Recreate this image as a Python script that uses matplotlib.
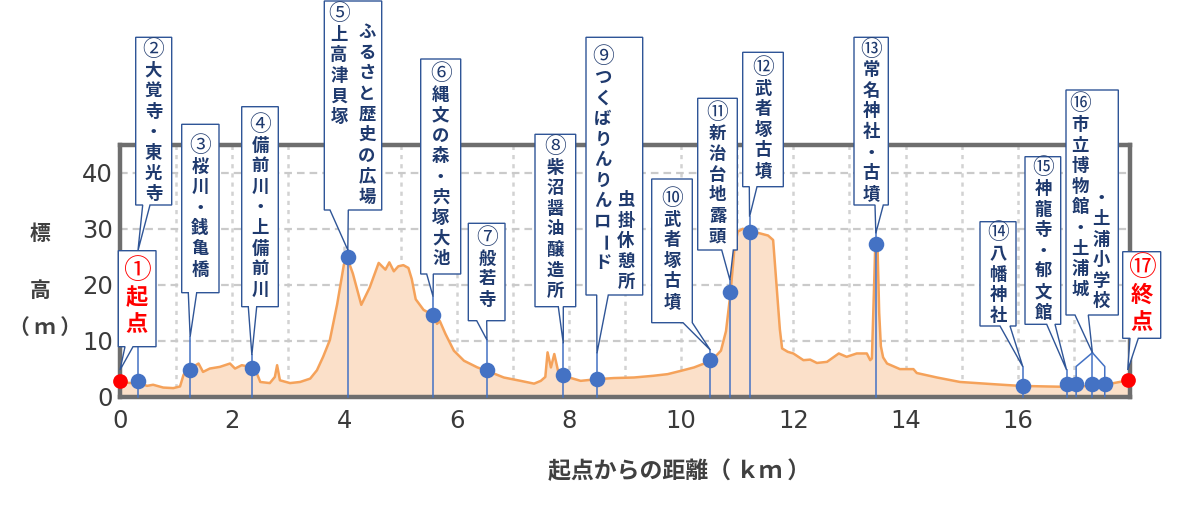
import numpy as np
import matplotlib.pyplot as plt
from matplotlib.patches import Polygon

plt.rcParams["font.family"] = ["Noto Sans CJK JP", "DejaVu Sans"]
plt.rcParams["lines.scale_dashes"] = False

# elevation profile along the route (km, m)
dist_km = [0.00, 0.10, 0.20, 0.36, 0.48, 0.59, 0.77, 0.95, 1.07, 1.13, 1.19, 1.30,
           1.40, 1.48, 1.60, 1.78, 1.96, 2.05, 2.17, 2.32, 2.44, 2.50, 2.67, 2.76,
           2.80, 2.85, 3.03, 3.21, 3.39, 3.51, 3.62, 3.74, 3.87, 3.99, 4.05, 4.15,
           4.30, 4.45, 4.61, 4.73, 4.80, 4.88, 4.96, 5.05, 5.14, 5.20, 5.27, 5.41,
           5.59, 5.65, 5.70, 5.80, 5.95, 6.13, 6.37, 6.54, 6.84, 7.14, 7.38, 7.50,
           7.58, 7.62, 7.68, 7.74, 7.82, 7.90, 8.21, 8.50, 8.80, 9.16, 9.50, 9.76,
           10.00, 10.23, 10.54, 10.71, 10.80, 10.88, 10.95, 11.01, 11.10, 11.22,
           11.40, 11.55, 11.64, 11.70, 11.76, 11.80, 11.90, 12.00, 12.18, 12.30,
           12.42, 12.60, 12.81, 12.95, 13.13, 13.31, 13.37, 13.40, 13.44, 13.46,
           13.50, 13.53, 13.56, 13.60, 13.67, 13.90, 14.14, 14.20, 14.56, 14.97,
           15.57, 16.04, 16.50, 16.76, 17.00, 17.35, 17.55, 17.71, 17.97]
elev_m = [2.7, 2.5, 2.4, 2.4, 1.9, 2.1, 1.6, 1.5, 1.8, 3.8, 4.9, 5.3,
          5.9, 4.4, 5.0, 5.3, 5.9, 5.0, 5.6, 5.3, 4.1, 2.6, 2.4, 3.5,
          5.6, 2.9, 2.4, 2.6, 3.2, 4.7, 7.1, 10.1, 16.5, 23.6, 24.8, 22.0,
          16.4, 19.5, 23.9, 22.7, 24.0, 22.4, 23.3, 23.5, 23.0, 21.0, 17.4, 15.5,
          14.5, 13.0, 13.5, 11.2, 8.2, 6.4, 5.2, 4.6, 3.4, 2.8, 2.3, 2.8,
          3.5, 7.9, 5.2, 7.6, 4.0, 3.7, 2.8, 3.1, 3.3, 3.4, 3.7, 4.0,
          4.6, 5.2, 6.4, 8.2, 11.7, 18.5, 26.5, 29.5, 30.0, 29.5,
          29.2, 28.8, 28.0, 20.0, 12.0, 8.6, 8.0, 7.7, 6.5, 6.6,
          6.0, 6.2, 7.7, 7.1, 7.7, 7.7, 6.5, 6.8, 20.0, 27.0,
          27.0, 15.0, 9.0, 7.0, 5.9, 4.9, 4.9, 4.2, 3.4, 2.6,
          2.2, 1.9, 1.8, 1.75, 1.8, 1.9, 2.0, 2.4, 2.9]

# stops (circled number + name, columns in reading order)
stop_text = [
    ["①起点"],
    ["②大覚寺・東光寺"],
    ["③桜川・銭亀橋"],
    ["④備前川・上備前川"],
    ["⑤上高津貝塚", "ふるさと歴史の広場"],
    ["⑥縄文の森・宍塚大池"],
    ["⑦般若寺"],
    ["⑧柴沼醤油醸造所"],
    ["⑨つくばりんりんロード", "虫掛休憩所"],
    ["⑩武者塚古墳"],
    ["⑪新治台地露頭"],
    ["⑫武者塚古墳"],
    ["⑬常名神社・古墳"],
    ["⑭八幡神社"],
    ["⑮神龍寺・郁文館"],
    ["⑯市立博物館・土浦城", "・土浦小学校"],
    ["⑰終点"],
]
stop_km = [[0.0], [0.32], [1.25], [2.35], [4.06], [5.58], [6.54], [7.90], [8.50],
           [10.52], [10.87], [11.22], [13.47], [16.09], [16.87],
           [17.04, 17.33, 17.55], [17.96]]
stop_m = [[2.8], [2.8], [4.7], [5.1], [24.9], [14.6], [4.7], [3.8], [3.2],
          [6.5], [18.7], [29.5], [27.3], [1.9], [2.2],
          [2.2, 2.2, 2.2], [3.0]]

# callout layout in reference pixels (left, right, top, bottom)
box_px = [(118.3, 156.0, 250.7, 346.7), (135.7, 171.7, 37.3, 205.0),
          (181.7, 219.0, 124.3, 292.7), (241.7, 278.3, 106.7, 306.7),
          (324.3, 381.7, 1.0, 210.0), (420.7, 460.7, 59.0, 274.0),
          (468.3, 505.0, 223.3, 320.7), (535.0, 575.7, 134.3, 306.7),
          (586.0, 642.7, 37.3, 295.0), (651.7, 692.3, 179.0, 322.7),
          (697.7, 737.3, 98.3, 250.0), (742.7, 783.3, 52.3, 186.7),
          (854.0, 888.3, 37.3, 205.0), (980.0, 1016.0, 221.7, 326.0),
          (1025.0, 1060.7, 156.7, 324.3), (1066.0, 1118.3, 90.0, 315.0),
          (1122.7, 1160.7, 251.7, 338.3)]
base_px = [(125, 133), (142.7, 150), (188.3, 196.7), (248.3, 256.7), (330, 348.3),
           (426.7, 433.3), (476.7, 486.7), (558.3, 563.3), (596.7, 608.3),
           (683, 692.3), (721.7, 733.3), (749.3, 757), (875, 883.3), (1000, 1010),
           (1046.7, 1055), (1075, 1088.3), (1130, 1138.3)]
tip_py = [370, 250.7, 336.7, 355, 250, 296.7, 340, 343.3, 353.3, 350, 280,
          216.7, 233.3, 366.7, 370, 352.7, 370]
col_px = [[(137, 271)], [(153.5, 50)], [(200, 146)], [(260, 125)],
          [(339, 14), (367, 32)], [(440.7, 74)], [(487, 238)], [(555.3, 147)],
          [(603, 57), (626, 200)], [(672, 199)], [(717.5, 113)], [(763, 68)],
          [(871, 49.5)], [(998, 233.3)], [(1043, 168.3)],
          [(1080, 104.3), (1101, 198.3)], [(1141.7, 268.3)]]
BRANCH_PY = 366.5

W, H = 1200, 509
AX_L, AX_R, AX_T, AX_B = 120, 1130, 145, 396.5
XMAX, YMAX = 18, 45


def px_x(px):
    return (px - AX_L) / (AX_R - AX_L) * XMAX


def px_y(py):
    return (AX_B - py) / (AX_B - AX_T) * YMAX


BLUE = "#4472c4"
EDGE = "#2f5597"
NAVY = "#1f3a6e"
RED = "#ff0000"

fig = plt.figure(figsize=(W / 100, H / 100), dpi=100)
ax = fig.add_axes([AX_L / W, 1 - AX_B / H, (AX_R - AX_L) / W, (AX_B - AX_T) / H])

ax.fill_between(dist_km, elev_m, 0, color="#fbe0c9", lw=0, zorder=1)
ax.plot(dist_km, elev_m, color="#f5a25a", lw=1.8, zorder=2)

ax.set_xlim(0, XMAX)
ax.set_ylim(0, YMAX)
ax.set_xticks(range(0, 17, 2))
ax.set_yticks(range(0, 41, 10))
for k in range(1, 18):
    ax.axvline(k, color="#d2d2d2", lw=1.8, ls=(0, (3, 3.6)), zorder=0)
for v in range(10, 41, 10):
    ax.axhline(v, color="#cacaca", lw=1.6, ls=(0, (5.5, 3.6)), zorder=0)

for sp in ax.spines.values():
    sp.set_color("#6e6e6e")
    sp.set_linewidth(3.2)
ax.tick_params(length=0, labelsize=17.5, labelcolor="#3a3a3a")
ax.tick_params(axis="y", pad=5)
ax.tick_params(axis="x", pad=9)
for lab in ax.get_xticklabels() + ax.get_yticklabels():
    lab.set_family("DejaVu Sans")

# axis titles
fig.text(40 / W, 1 - 233 / H, "標", ha="center", va="center", fontsize=15,
         color="#404040", weight="bold")
fig.text(40 / W, 1 - 290 / H, "高", ha="center", va="center", fontsize=15,
         color="#404040", weight="bold")
fig.text(45 / W, 1 - 327 / H, "（ ｍ ）", ha="center", va="center", fontsize=15,
         color="#404040", weight="bold")
fig.text(679 / W, 1 - 472 / H, "起点からの距離（ ｋｍ ）", ha="center", va="center",
         fontsize=16.5, color="#404040", weight="bold")

n = len(stop_text)
for i in range(n):
    is_end = i == 0 or i == n - 1
    kms, ms = stop_km[i], stop_m[i]
    tip_x = float(np.median(kms))
    tip_y = px_y(tip_py[i])

    # vertical drop lines and markers
    if not is_end:
        if len(kms) == 1:
            ax.plot([kms[0], kms[0]], [0, tip_y], color=BLUE, lw=1.1, zorder=3,
                    clip_on=False)
        else:
            by = px_y(BRANCH_PY)
            for k in kms:
                ax.plot([tip_x, k, k], [tip_y, by if k != tip_x else tip_y, 0],
                        color=BLUE, lw=1.1, zorder=3, clip_on=False)
    ax.plot(kms, ms, "o", color=RED if is_end else BLUE,
            ms=10.6 if is_end else 11.2, mec="none", zorder=4, clip_on=False)

    # speech-bubble box
    l, r, t, b = box_px[i]
    b0, b1 = base_px[i]
    pts = [(l, t), (r, t), (r, b), (b1, b), None, (b0, b), (l, b)]
    xy = []
    for p in pts:
        if p is None:
            xy.append((tip_x, tip_y))
        else:
            xy.append((px_x(p[0]), px_y(p[1])))
    ax.add_patch(Polygon(xy, closed=True, fc="white", ec=EDGE, lw=1.0,
                         zorder=5, clip_on=False))

    # vertical text
    pitch = 27 if is_end else 20.6
    fs = 16 if is_end else 12.5
    color = RED if is_end else NAVY
    for col, (cx, cy) in zip(stop_text[i], col_px[i]):
        for j, ch in enumerate(col):
            circled = "\u2460" <= ch <= "\u2473"
            ax.text(px_x(cx), px_y(cy + j * pitch), ch, ha="center", va="center",
                    fontsize=fs * 1.25 if circled else fs, color=color,
                    weight="normal" if circled else "bold",
                    rotation=-90 if ch == "ー" else 0,
                    zorder=6, clip_on=False)

fig.savefig("out.png", dpi=100)
